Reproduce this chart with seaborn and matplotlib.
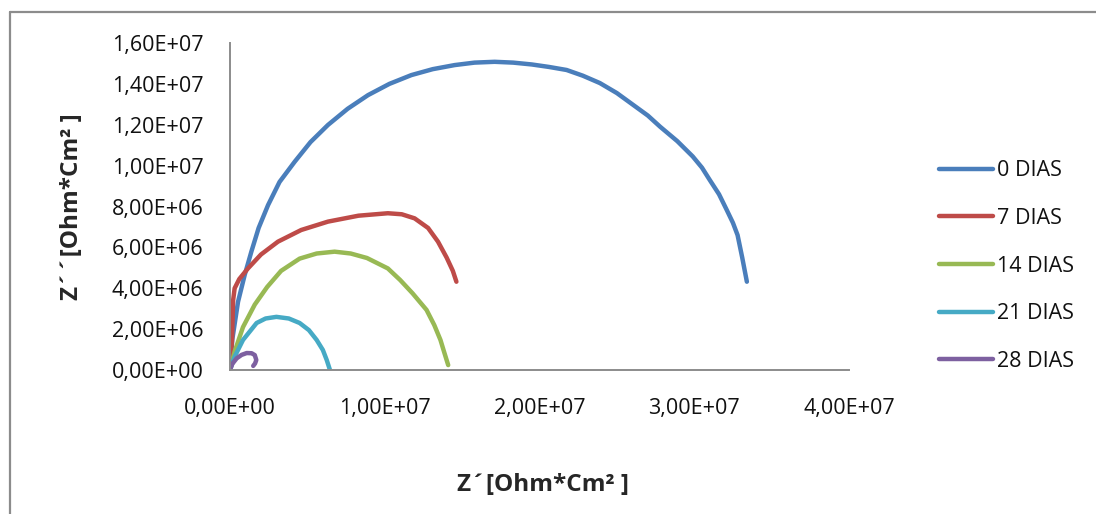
import numpy as np
import pandas as pd
import matplotlib
matplotlib.use('Agg')
import matplotlib.pyplot as plt
from matplotlib.lines import Line2D
from matplotlib.ticker import FuncFormatter, MultipleLocator
import seaborn as sns


# Nyquist data (units of 1e6 Ohm*cm2)
series = ['0 DIAS', '7 DIAS', '14 DIAS', '21 DIAS', '28 DIAS']

zr_0 = [0, 0.15, 0.52, 0.95, 1.38, 1.85, 2.46, 3.2, 4.18, 5.2, 6.33, 7.6,
        8.92, 10.3, 11.72, 13.1, 14.52, 15.8, 17.1, 18.3, 19.5, 20.6, 21.75,
        22.8, 23.9, 25.0, 26.0, 27.0, 27.8, 28.9, 29.9, 30.5, 31.0, 31.6,
        32.1, 32.5, 32.8, 33.1, 33.4]
zi_0 = [0, 1.5, 3.34, 4.65, 5.79, 6.95, 8.07, 9.2, 10.19, 11.15, 11.99, 12.78,
        13.45, 14.0, 14.43, 14.72, 14.92, 15.04, 15.08, 15.04, 14.95, 14.83,
        14.68, 14.4, 14.04, 13.55, 13.0, 12.45, 11.9, 11.2, 10.45, 9.9, 9.3,
        8.6, 7.83, 7.2, 6.6, 5.5, 4.32]

zr_7 = [0, 0.13, 0.2, 0.3, 0.6, 1.16, 2.0, 3.1, 4.6, 6.33, 8.3, 10.2, 11.1,
        11.93, 12.8, 13.44, 14.0, 14.4, 14.63]
zi_7 = [0, 1.47, 3.4, 4.0, 4.45, 4.97, 5.65, 6.28, 6.85, 7.26, 7.55, 7.67,
        7.62, 7.42, 6.95, 6.28, 5.5, 4.85, 4.32]

zr_14 = [0, 0.3, 0.84, 1.6, 2.4, 3.3, 4.5, 5.6, 6.76, 7.8, 8.85, 10.2,
         11.0, 11.8, 12.3, 12.7, 13.2, 13.6, 13.85, 14.1]
zi_14 = [0, 0.9, 2.1, 3.2, 4.06, 4.85, 5.45, 5.7, 5.79, 5.7, 5.48, 4.97,
         4.4, 3.75, 3.3, 2.94, 2.2, 1.47, 0.85, 0.24]

zr_21 = [0, 0.3, 0.84, 1.72, 2.3, 3.0, 3.8, 4.5, 5.1, 5.6, 6.0, 6.25, 6.46]
zi_21 = [0, 0.65, 1.47, 2.3, 2.52, 2.6, 2.52, 2.3, 1.95, 1.47, 0.98, 0.49, 0]

zr_28 = [0, 0.15, 0.43, 0.75, 1.08, 1.4, 1.6, 1.7, 1.62, 1.5]
zi_28 = [0, 0.3, 0.57, 0.74, 0.83, 0.82, 0.73, 0.49, 0.32, 0.2]

zr = [zr_0, zr_7, zr_14, zr_21, zr_28]
zi = [zi_0, zi_7, zi_14, zi_21, zi_28]

frames = []
for name, xs, ys in zip(series, zr, zi):
    frames.append(pd.DataFrame({'zr': np.array(xs) * 1e6,
                                'zi': np.array(ys) * 1e6,
                                'serie': name}))
df = pd.concat(frames, ignore_index=True)

colors = ['#4A7EBB', '#BE4B48', '#98B954', '#46AAC5', '#7D60A0']

sns.set_style('white')
plt.rcParams['font.family'] = ['Open Sans', 'DejaVu Sans']
plt.rcParams['text.color'] = '#111111'

fig = plt.figure(figsize=(10.96, 5.14), dpi=100)
ax = fig.add_axes([230 / 1096, 1 - 370 / 514, (849 - 230) / 1096, (370 - 43) / 514])

sns.lineplot(data=df, x='zr', y='zi', hue='serie', hue_order=series,
             palette=colors, sort=False, estimator=None, units='serie',
             linewidth=3.2, ax=ax)
for line in ax.get_lines():
    line.set_solid_joinstyle('round')
    line.set_solid_capstyle('round')

ax.set_xlim(0, 4e7)
ax.set_ylim(0, 1.6e7)
ax.xaxis.set_major_locator(MultipleLocator(1e7))
ax.yaxis.set_major_locator(MultipleLocator(2e6))
fmt = FuncFormatter(lambda v, p: f'{v:.2E}'.replace('.', ','))
ax.xaxis.set_major_formatter(fmt)
ax.yaxis.set_major_formatter(fmt)
ax.tick_params(axis='both', length=0, labelsize=15.5, colors='#111111')
ax.tick_params(axis='x', pad=20)
ax.tick_params(axis='y', pad=19)

sns.despine(ax=ax)
for s in ['left', 'bottom']:
    ax.spines[s].set_color('#8c8c8c')
    ax.spines[s].set_linewidth(1.4)

ax.set_xlabel('Z´[Ohm*Cm² ]', fontsize=17.5, fontweight='bold')
ax.set_ylabel('Z´´[Ohm*Cm² ]', fontsize=17.5, fontweight='bold')
ax.xaxis.set_label_coords(0.505, -0.315)
ax.yaxis.set_label_coords(-0.236, 0.5)

ax.get_legend().remove()
handles, labels = ax.get_legend_handles_labels()
fig.legend(handles, labels, loc='center left',
           bbox_to_anchor=(939 / 1096, 1 - 266 / 514),
           frameon=False, fontsize=15.5, handlelength=2.5,
           handletextpad=0.2, labelspacing=1.24,
           borderpad=0, borderaxespad=0)

# chart area border (only top and left edges show in the reference)
bx, by = 9.5 / 1096, 1 - 11.5 / 514
fig.add_artist(Line2D([bx, 1.0], [by, by], transform=fig.transFigure,
                      color='#8c8c8c', linewidth=1.6))
fig.add_artist(Line2D([bx, bx], [0.0, by], transform=fig.transFigure,
                      color='#8c8c8c', linewidth=1.6))

plt.savefig('out.png', dpi=100)
